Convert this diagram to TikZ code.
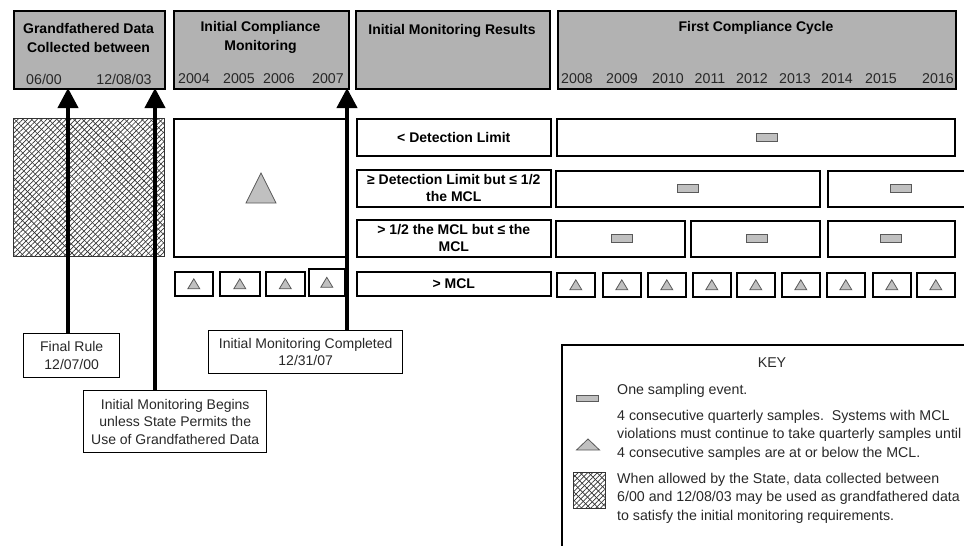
\documentclass[tikz,border=0pt]{standalone}
\usepackage{fontspec}
\setmainfont{Liberation Sans}
\usetikzlibrary{arrows.meta,patterns.meta}
\definecolor{hdrgray}{RGB}{178,178,178}
\definecolor{icongray}{RGB}{192,192,192}
\definecolor{txt}{RGB}{40,40,40}
\tikzset{
  boxframe/.style={draw=black, line width=1.6pt, anchor=north west, inner sep=0pt, align=center,
    font={\fontsize{14}{17}\selectfont\bfseries}},
  hdr/.style={boxframe, fill=hdrgray},
  lbl/.style={inner sep=0pt, align=center, text=txt, font={\fontsize{14.2}{18}\selectfont}},
  blbl/.style={inner sep=0pt, align=center, font={\fontsize{14}{19}\selectfont\bfseries}},
  callout/.style={boxframe, line width=1.4pt, text=txt, font={\fontsize{14}{17.5}\selectfont}},
  icon/.style={draw=black!65, fill=icongray, line width=0.8pt},
  arr/.style={line width=4pt, -{Triangle[width=20pt,length=20pt]}},
  hatch/.style={draw=black!80, line width=1pt, anchor=north west, inner sep=0pt,
    pattern={Lines[angle=45,distance=3.4pt,line width=0.7pt]}, pattern color=black!80,
    preaction={pattern={Lines[angle=-45,distance=6pt,line width=0.6pt]}, pattern color=black!80}},
  smalltri/.pic={\draw[icon] (-6,5) -- (6,5) -- (0,-5) -- cycle;},
  bigtri/.pic={\draw[icon] (-15,15) -- (15,15) -- (0,-15) -- cycle;},
  keytri/.pic={\draw[icon] (-11.5,5.5) -- (11.5,5.5) -- (0,-5.5) -- cycle;},
  samp/.pic={\draw[icon] (-10.5,-4) rectangle (10.5,4);},
  keysamp/.pic={\draw[icon] (-11,-3) rectangle (11,3);}
}
\begin{document}
\begin{tikzpicture}[x=1pt,y=-1pt]
\useasboundingbox (0,0) rectangle (964,546);
\clip (0,0) rectangle (964,546);

% headers
\node[hdr, minimum width=151pt, minimum height=78pt] (h1) at (13,10) {};
\node[hdr, minimum width=175pt, minimum height=78pt] (h2) at (173,10) {};
\node[hdr, minimum width=194pt, minimum height=78pt] (h3) at (355,10) {};
\node[hdr, minimum width=398pt, minimum height=78pt] (h4) at (557,10) {};
\node[blbl] (t1) at (88.5,37.5) {Grandfathered Data\\Collected between};
\node[blbl] (t2) at (260.5,37.5) {Initial Compliance\\Monitoring};
\node[blbl] (t3) at (452,31) {Initial Monitoring Results};
\node[blbl] (t4) at (756,28) {First Compliance Cycle};
\node[lbl] (d1) at (44,79) {06/00};
\node[lbl] (d2) at (124,79) {12/08/03};
\foreach \yr/\x in {2004/194,2005/239,2006/279,2007/328,2008/577,2009/622,2010/668,2011/710,2012/752,2013/795,2014/837,2015/881,2016/938}
  \node[lbl] (y\yr) at (\x,79) {\yr};

% grandfathered data and initial monitoring
\node[hatch, minimum width=151pt, minimum height=138pt] (gd) at (13,118) {};
\node[boxframe, minimum width=173pt, minimum height=138pt] (m1) at (173,118) {};
\pic at (261,188) {bigtri};
\foreach \x/\w/\y/\h [count=\i] in {174/38/271/24,219/40/271/24,265/39/271/24,308/36/268/27}{
  \node[boxframe, minimum width=\w pt, minimum height=\h pt] (s\i) at (\x,\y) {};
  \pic at (s\i.center) {smalltri};
}

% result rows
\node[boxframe, minimum width=194pt, minimum height=37pt] (r1) at (356,118) {< Detection Limit};
\node[boxframe, minimum width=194pt, minimum height=37pt] (r2) at (356,169) {≥ Detection Limit but ≤ 1/2\\the MCL};
\node[boxframe, minimum width=194pt, minimum height=37pt] (r3) at (356,219) {> 1/2 the MCL but ≤ the\\MCL};
\node[boxframe, minimum width=194pt, minimum height=24pt] (r4) at (356,271) {> MCL};

% first compliance cycle
\node[boxframe, minimum width=398pt, minimum height=37pt] (c1) at (556,118) {};
\pic at (767,137) {samp};
\node[boxframe, minimum width=264pt, minimum height=36pt] (c2a) at (555,170) {};
\node[boxframe, minimum width=150pt, minimum height=36pt] (c2b) at (827,170) {};
\pic at (c2a.center) {samp};
\pic at (901,188) {samp};
\node[boxframe, minimum width=129pt, minimum height=36pt] (c3a) at (555,220) {};
\node[boxframe, minimum width=129pt, minimum height=36pt] (c3b) at (690,220) {};
\node[boxframe, minimum width=127pt, minimum height=36pt] (c3c) at (827,220) {};
\pic at (622,238) {samp};
\pic at (757,238) {samp};
\pic at (891,238) {samp};
\foreach \x [count=\i] in {556,602,647,692,736,781,826,872,916}{
  \node[boxframe, minimum width=38pt, minimum height=24pt] (q\i) at (\x,272) {};
  \pic at (q\i.center) {smalltri};
}

% callouts
\node[callout, minimum width=96pt, minimum height=44pt] (fr) at (23,333) {Final Rule\\12/07/00};
\node[callout, minimum width=183pt, minimum height=62pt] (imb) at (83,390) {Initial Monitoring Begins\\unless State Permits the\\Use of Grandfathered Data};
\node[callout, minimum width=194pt, minimum height=43pt] (imc) at (208,330) {Initial Monitoring Completed\\12/31/07};
\coordinate (a1) at (68,88);
\coordinate (a2) at (155,88);
\coordinate (a3) at (347,88);
\draw[arr] (a1 |- fr.north) -- (a1);
\draw[arr] (a2 |- imb.north) -- (a2);
\draw[arr] (a3 |- imc.north) -- (a3);

% key
\node[boxframe, minimum width=420pt, minimum height=220pt] (key) at (561,344) {};
\node[lbl] (keyt) at (772,363) {KEY};
\pic at (587,398) {keysamp};
\node[lbl, anchor=west] (k1) at (617,391) {One sampling event.};
\pic at (588,444.5) {keytri};
\node[lbl, anchor=west, align=left, font={\fontsize{14.2}{18.5}\selectfont}] (k2) at (617,435) {4 consecutive quarterly samples.\ \ Systems with MCL\\violations must continue to take quarterly samples until\\4 consecutive samples are at or below the MCL.};
\node[hatch, minimum width=32pt, minimum height=36pt] (kh) at (573,472) {};
\node[lbl, anchor=west, align=left, font={\fontsize{14.2}{18.5}\selectfont}] (k3) at (617,498) {When allowed by the State, data collected between\\6/00 and 12/08/03 may be used as grandfathered data\\to satisfy the initial monitoring requirements.};
\end{tikzpicture}
\end{document}
